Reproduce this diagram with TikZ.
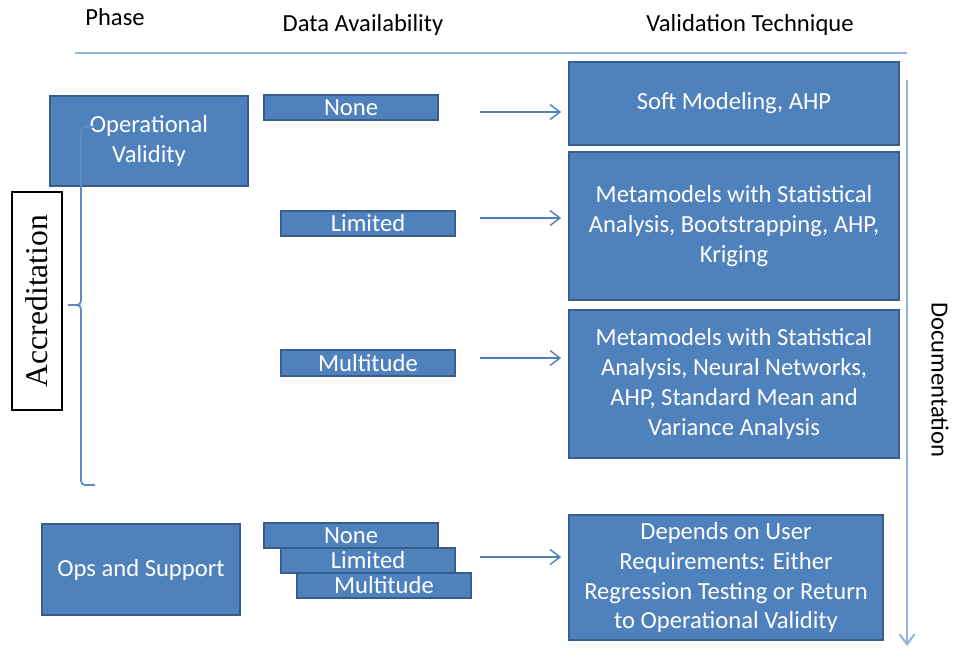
\documentclass[tikz,border=0pt]{standalone}
\usepackage{fontspec}
\setmainfont{Carlito}
\newfontfamily\serifface{Liberation Serif}
\usepackage{tikz}
\usetikzlibrary{arrows.meta,positioning}
\definecolor{Box}{HTML}{4F81BD}
\definecolor{Rim}{HTML}{385D8A}
\definecolor{Rule}{HTML}{95B3D7}
\tikzset{
 blue box/.style={draw=Rim,fill=Box,line width=1pt,text=white,align=center,
   font=\fontsize{14}{17}\selectfont,inner sep=2pt},
 phase/.style={blue box,minimum width=3.96cm,minimum height=1.8cm},
 avail/.style={blue box,minimum width=3.48cm,minimum height=0.5cm,inner sep=0pt},
 tech/.style={blue box,minimum width=6.6cm,minimum height=2.96cm},
 head/.style={font=\fontsize{14}{17}\selectfont},
 arr/.style={-{Straight Barb[length=2mm,width=3mm]},draw=Box,line width=0.8pt,shorten >=0.14cm},
 bracket/.style={draw=Box!92!white,line width=1pt,rounded corners=0.08cm}
}
\begin{document}
\begin{tikzpicture}[x=0.02cm,y=-0.02cm]
\useasboundingbox (0,0) rectangle (955,647);
% headings
\node[head] (hphase) at (115,17) {Phase};
\node[head] (hdata) at (363,25) {Data Availability};
\node[head] (htech) at (750,25) {Validation Technique};
\coordinate (rl) at (75,53);
\coordinate (rr) at (907,53);
\draw[Rule,line width=1.2pt] (rl) -- (rr);
% phases
\node[phase] (ov) at (149,141) {Operational\\Validity};
\node[phase,minimum height=1.82cm] (ops) at (141,569.5) {Ops and Support};
\node[draw=black,fill=white,line width=0.8pt,rotate=90,minimum width=4.36cm,minimum height=1cm,
  font=\serifface\fontsize{18}{20}\selectfont] (accr) at (37,301) {Accreditation};
\coordinate (bt) at (95,127);
\coordinate (bb) at (95,485);
\coordinate (bm) at (68,305);
\draw[bracket] (bb) -- (81,485) -- (81,305) -- (bm);
\draw[bracket] (bt) -- (81,127) -- (81,305) -- (bm);
% data availability
\node[avail] (none1) at (351,107.5) {None};
\node[avail] (lim1) at (368,223.5) {Limited};
\node[avail,minimum height=0.52cm] (mul1) at (368,363) {Multitude};
\node[avail] (none2) at (351,535.5) {None};
\node[avail] (lim2) at (368,560.5) {Limited};
\node[avail] (mul2) at (384,585.5) {Multitude};
% techniques
\node[tech,minimum height=1.66cm] (soft) at (734,103.5) {Soft Modeling, AHP};
\node[tech] (meta1) at (734,226) {Metamodels with Statistical\\Analysis, Bootstrapping, AHP,\\Kriging};
\node[tech] (meta2) at (734,384) {Metamodels with Statistical\\Analysis, Neural Networks,\\AHP, Standard Mean and\\Variance Analysis};
\node[tech,minimum width=6.28cm,minimum height=2.5cm] (dep) at (726,577.5) {Depends on User\\Requirements: Either\\Regression Testing or Return\\to Operational Validity};
% arrows
\coordinate (s1) at (480,112);
\coordinate (s2) at (480,218);
\coordinate (s3) at (480,358);
\coordinate (s4) at (480,557);
\draw[arr] (s1) -- (s1 -| soft.west);
\draw[arr] (s2) -- (s2 -| meta1.west);
\draw[arr] (s3) -- (s3 -| meta2.west);
\draw[arr] (s4) -- (s4 -| dep.west);
% documentation
\coordinate (dtop) at (907,80);
\coordinate (dbot) at (907,646);
\draw[-{Straight Barb[length=2mm,width=3mm]},Rule,line width=1.2pt] (dtop) -- (dbot);
\node[head,rotate=-90] (doc) at (940,380) {Documentation};
\end{tikzpicture}
\end{document}
